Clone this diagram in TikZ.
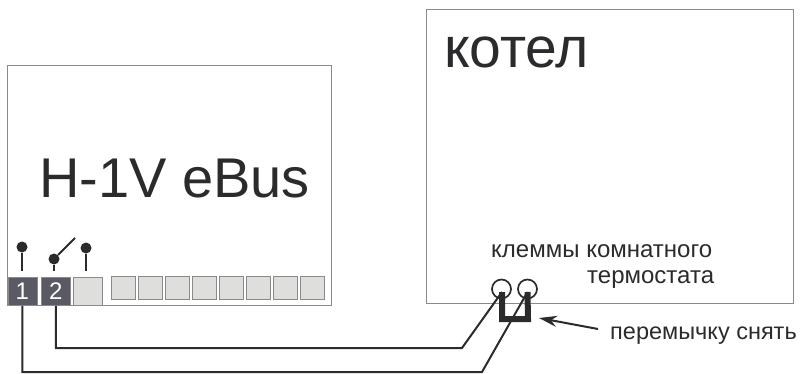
\documentclass[tikz,border=0pt]{standalone}
\usepackage{fontspec}
\setmainfont{Liberation Sans}
\usetikzlibrary{arrows.meta}
\definecolor{boxline}{HTML}{8A8A8A}
\definecolor{ink}{HTML}{2B2B2D}
\definecolor{termdark}{HTML}{5A5A64}
\definecolor{termlight}{HTML}{DEDEDC}
\tikzset{
 x=1pt,y=-1pt,
 panel/.style={draw=boxline,line width=1.2pt,fill=white,minimum width=#1,anchor=north west,inner sep=0pt},
 termd/.style={draw=boxline,line width=.8pt,fill=termdark,text=white,anchor=north west,minimum width=29pt,minimum height=28pt,inner sep=0pt,font=\fontsize{24}{24}\selectfont},
 terml/.style={draw=boxline,line width=1pt,fill=termlight,anchor=north west,minimum width=24pt,minimum height=23pt,inner sep=0pt},
 wire/.style={draw=ink,line width=2pt,line join=miter},
 pin/.style={circle,fill=ink,minimum size=11pt,inner sep=0pt},
 lbl/.style={text=ink,inner sep=0pt,anchor=base west},
}
\begin{document}
\begin{tikzpicture}
\useasboundingbox (0,0) rectangle (800,374);
\node[panel=324pt,minimum height=240pt] (left) at (7,65) {};
\node[panel=367pt,minimum height=294pt] (right) at (426,9) {};
\node[lbl,font=\fontsize{56}{56}\selectfont] (title) at (39,197) {H-1V eBus};
\node[lbl,font=\fontsize{57}{57}\selectfont] (kotel) at (444,68) {котел};
\node[lbl,font=\fontsize{24}{24}\selectfont] (l1) at (491,257) {клеммы комнатного};
\node[lbl,font=\fontsize{24}{24}\selectfont] (l2) at (587,283) {термостата};
\node[lbl,font=\fontsize{23.5}{24}\selectfont] (l3) at (610,339) {перемычку снять};
% terminals
\node[termd] (t1) at (7.5,277) {1};
\node[termd] (t2) at (41,277) {2};
\node[terml,minimum width=29pt,minimum height=28pt] (t3) at (72.5,277) {};
\foreach \n/\xx in {a/111,b/138,c/165,d/192,e/219,f/246,g/273,h/299.5}
  \node[terml] (s\n) at (\xx,276) {};
% pins
\node[pin] (p1) at (22,247) {};
\node[pin] (p2) at (54,259) {};
\node[pin] (p3) at (86,248) {};
\coordinate (p1b) at (22,271);
\coordinate (p2b) at (54,271);
\coordinate (p3b) at (86,271);
\coordinate (blade) at (75,238);
\draw[wire] (p1) -- (p1b);
\draw[wire] (p2) -- (p2b);
\draw[wire] (p3) -- (p3b);
\draw[wire] (p2) -- (blade);
% clamps
\node[circle,draw=ink,line width=1.7pt,fill=white,minimum size=19pt,inner sep=0pt] (c1) at (501.5,289) {};
\node[circle,draw=ink,line width=1.7pt,fill=white,minimum size=19pt,inner sep=0pt] (c2) at (527.5,289) {};
\coordinate (c1c) at (502,292);
\coordinate (c2c) at (527.5,292);
% jumper
\coordinate (j1) at (502,319);
\coordinate (j2) at (528,319);
\draw[ink,line width=6pt,line join=miter] (c1c) -- (j1) -- (j2) -- (c2c);
% wires
\coordinate (w1) at (462,348);
\coordinate (w2) at (482,372);
\draw[wire] (t2.south) |- (w1) -- (c1c);
\draw[wire] (t1.south) |- (w2) -- (c2c);
% arrow
\coordinate (atail) at (598,329);
\coordinate (ahead) at (539,318);
\draw[ink,line width=2pt,-{Stealth[length=18pt,width=11pt]}] (atail) -- (ahead);
\end{tikzpicture}
\end{document}
